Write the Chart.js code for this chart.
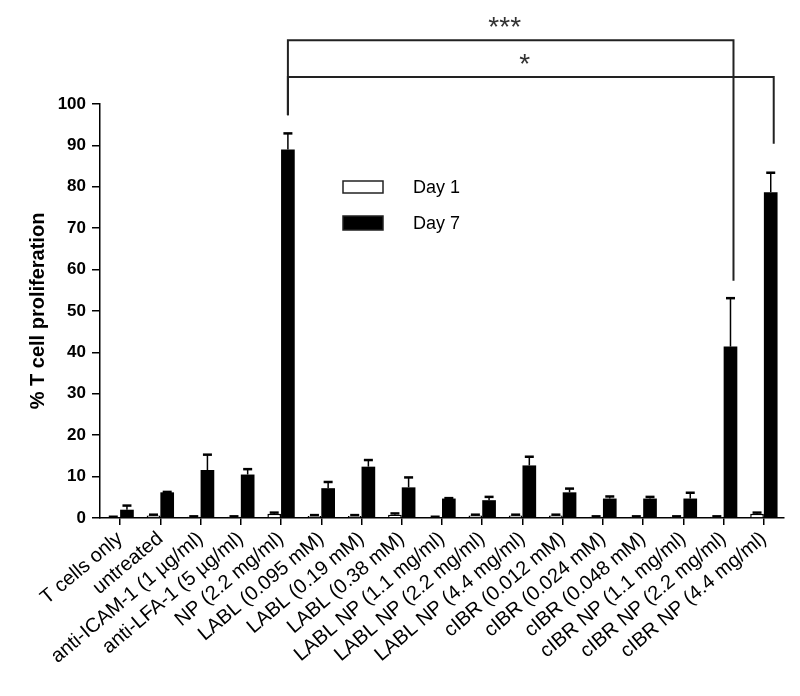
<!DOCTYPE html>
<html>
<head>
<meta charset="utf-8">
<script src="https://cdn.jsdelivr.net/npm/chart.js@4/dist/chart.umd.min.js"></script>
<style>
  body { margin: 0; background: #fff; }
  canvas { display: block; }
</style>
</head>
<body>
<canvas id="chart" width="800" height="696"></canvas>
<script>

var categories = [
  'T cells only', 'untreated', 'anti-ICAM-1 (1 µg/ml)', 'anti-LFA-1 (5 µg/ml)',
  'NP (2.2 mg/ml)', 'LABL (0.095 mM)', 'LABL (0.19 mM)', 'LABL (0.38 mM)',
  'LABL NP (1.1 mg/ml)', 'LABL NP (2.2 mg/ml)', 'LABL NP (4.4 mg/ml)',
  'cIBR (0.012 mM)', 'cIBR (0.024 mM)', 'cIBR (0.048 mM)',
  'cIBR NP (1.1 mg/ml)', 'cIBR NP (2.2 mg/ml)', 'cIBR NP (4.4 mg/ml)'
];

var day1 = [0.2, 0.6, 0.3, 0.3, 1.0, 0.5, 0.5, 0.8, 0.2, 0.6, 0.6, 0.6, 0.3, 0.3, 0.3, 0.3, 1.0];
var day1Err = [0.1, 0.2, 0.1, 0.1, 0.3, 0.2, 0.2, 0.3, 0.1, 0.2, 0.2, 0.2, 0.1, 0.1, 0.1, 0.1, 0.3];
var day7 = [2.0, 6.2, 11.6, 10.5, 89.0, 7.2, 12.4, 7.4, 4.7, 4.3, 12.7, 6.2, 4.7, 4.7, 4.7, 41.4, 78.7];
var day7Err = [1.0, 0.1, 3.7, 1.3, 3.9, 1.5, 1.6, 2.4, 0.1, 0.8, 2.1, 0.9, 0.5, 0.4, 1.4, 11.7, 4.7];

var yTicks = [0, 10, 20, 30, 40, 50, 60, 70, 80, 90, 100];

// significance brackets: category indexes, bar level, where each leg stops
var brackets = [
  { from: 4, to: 15, level: 115.4, fromEnd: 97.3, toEnd: 57.3, label: '***' },
  { from: 4, to: 16, level: 106.5, fromEnd: 97.3, toEnd: 90.4, label: '*' }
];

var FONT = '"Liberation Sans", Arial, sans-serif';

var errorBars = {
  id: 'errorBars',
  afterDatasetsDraw: function(chart) {
    var ctx = chart.ctx;
    var y = chart.scales.y;
    chart.data.datasets.forEach(function(ds, d) {
      var meta = chart.getDatasetMeta(d);
      meta.data.forEach(function(bar, i) {
        var top = y.getPixelForValue(ds.data[i] + ds.errors[i]);
        ctx.save();
        ctx.strokeStyle = '#000';
        ctx.lineWidth = 1.5;
        ctx.beginPath();
        ctx.moveTo(bar.x, bar.y);
        ctx.lineTo(bar.x, top);
        ctx.stroke();
        ctx.lineWidth = 2.5;
        ctx.beginPath();
        ctx.moveTo(bar.x - 4.5, top);
        ctx.lineTo(bar.x + 4.5, top);
        ctx.stroke();
        ctx.restore();
      });
    });
  }
};

var boxLegend = {
  id: 'boxLegend',
  afterDraw: function(chart) {
    var ctx = chart.ctx;
    var rows = [{ y: 181, h: 12 }, { y: 216, h: 14 }];
    ctx.save();
    chart.data.datasets.forEach(function(ds, d) {
      var r = rows[d];
      ctx.fillStyle = ds.backgroundColor;
      ctx.fillRect(343, r.y, 40, r.h);
      ctx.strokeStyle = '#222';
      ctx.lineWidth = 1.5;
      ctx.strokeRect(343, r.y, 40, r.h);
      ctx.fillStyle = '#000';
      ctx.font = '18px ' + FONT;
      ctx.textBaseline = 'middle';
      ctx.fillText(ds.label, 413, r.y + r.h / 2 + 1);
    });
    ctx.restore();
  }
};

var sigBrackets = {
  id: 'sigBrackets',
  afterDraw: function(chart) {
    var ctx = chart.ctx;
    var y = chart.scales.y;
    var bars = chart.getDatasetMeta(1).data;
    ctx.save();
    ctx.strokeStyle = '#222';
    ctx.lineWidth = 2;
    brackets.forEach(function(b) {
      var x1 = bars[b.from].x;
      var x2 = bars[b.to].x + 3;
      var ly = y.getPixelForValue(b.level);
      ctx.beginPath();
      ctx.moveTo(x1, y.getPixelForValue(b.fromEnd));
      ctx.lineTo(x1, ly);
      ctx.lineTo(x2, ly);
      ctx.lineTo(x2, y.getPixelForValue(b.toEnd));
      ctx.stroke();
      ctx.fillStyle = '#333';
      ctx.font = '28px ' + FONT;
      ctx.textAlign = 'center';
      ctx.textBaseline = 'alphabetic';
      ctx.fillText(b.label, (x1 + x2) / 2 - 6, ly - 4);
    });
    ctx.restore();
  }
};

new Chart(document.getElementById('chart'), {
  type: 'bar',
  data: {
    labels: categories,
    datasets: [{
      label: 'Day 1',
      data: day1,
      errors: day1Err,
      backgroundColor: '#fff',
      borderColor: '#000',
      borderWidth: 1.5,
      barPercentage: 1,
      categoryPercentage: 0.68
    }, {
      label: 'Day 7',
      data: day7,
      errors: day7Err,
      backgroundColor: '#000',
      borderColor: '#000',
      borderWidth: 0,
      barPercentage: 1,
      categoryPercentage: 0.68
    }]
  },
  options: {
    responsive: false,
    animation: false,
    devicePixelRatio: 1,
    layout: { padding: { top: 104, right: 16, left: 0, bottom: 0 } },
    plugins: {
      legend: { display: false },
      tooltip: { enabled: false }
    },
    scales: {
      x: {
        grid: { display: true, drawOnChartArea: false, drawTicks: true, tickLength: 7, offset: false, color: '#000', lineWidth: 1.5 },
        border: { display: true, color: '#000', width: 1.5 },
        ticks: {
          autoSkip: false,
          minRotation: 40,
          maxRotation: 40,
          padding: 2,
          color: '#000',
          font: { family: FONT, size: 20 }
        },
        afterFit: function(scale) { scale.height = 178; }
      },
      y: {
        min: 0,
        max: 100,
        afterBuildTicks: function(scale) {
          scale.ticks = yTicks.map(function(v) { return { value: v }; });
        },
        grid: { display: true, drawOnChartArea: false, drawTicks: true, tickLength: 8, color: '#000', lineWidth: 1.5 },
        border: { display: true, color: '#000', width: 1.5 },
        ticks: {
          padding: 6,
          color: '#000',
          font: { family: FONT, size: 17, weight: 'bold' }
        },
        title: {
          display: true,
          text: '% T cell proliferation',
          color: '#000',
          font: { family: FONT, size: 20, weight: 'bold' },
          padding: { top: 26, bottom: 0 }
        },
        afterFit: function(scale) { scale.width = 100; }
      }
    }
  },
  plugins: [errorBars, boxLegend, sigBrackets]
});
</script>
</body>
</html>
